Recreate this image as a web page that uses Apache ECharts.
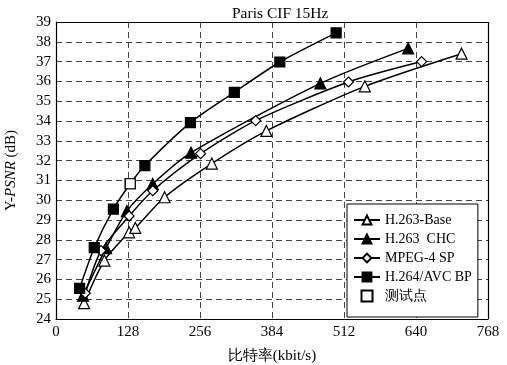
<!DOCTYPE html>
<html><head><meta charset="utf-8">
<script src="https://cdn.jsdelivr.net/npm/echarts@6/dist/echarts.min.js"></script>
<style>html,body{margin:0;padding:0;background:#fff}#c{width:507px;height:365px}</style>
</head><body><div id="c"></div>
<script>
var xTicks = [0, 128, 256, 384, 512, 640, 768];
var h263Base = [[50,24.8],[86,26.95],[130,28.38],[141,28.6],[193,30.15],[277,31.85],[374,33.5],[549,35.75],[721,37.4]];
var h263Chc = [[48,25.18],[89,27.58],[126,29.45],[172,30.82],[240,32.4],[470,35.9],[626,37.67]];
var mpeg4Sp = [[52,25.3],[80,27.45],[130,29.2],[172,30.48],[257,32.35],[355,34.02],[520,35.97],[650,37.0]];
var h264Bp = [[42,25.55],[68,27.6],[102,29.55],[132,30.83],[158,31.75],[239,33.92],[317,35.45],[398,36.98],[498,38.45]];
var testPoints = [[132,30.83]];

var serif = 'Liberation Serif';
var chart = echarts.init(document.getElementById('c'));
function lineSeries(name, data, symbol, size, fill) {
  return {
    name: name, type: 'line', data: data, smooth: 0.25,
    symbol: symbol, symbolSize: size, showAllSymbol: true,
    lineStyle: {color: '#000', width: 1.5},
    itemStyle: {color: fill, borderColor: '#000', borderWidth: 1.2, opacity: 1},
    emphasis: {disabled: true}
  };
}
chart.setOption({
  animation: false,
  title: {text: 'Paris CIF 15Hz', left: 227, top: 1,
    textStyle: {fontFamily: serif, fontSize: 15.5, fontWeight: 'normal', color: '#000'}},
  grid: {left: 56, right: 19, top: 22, bottom: 46, containLabel: false, outerBoundsMode: 'none'},
  legend: {
    orient: 'vertical', left: 347, top: 204, width: 131,
    padding: [9, 6, 14, 6], itemGap: 5, itemWidth: 26, itemHeight: 11,
    backgroundColor: '#fff', borderColor: '#000', borderWidth: 1,
    textStyle: {fontFamily: serif, fontSize: 14, color: '#000'},
    data: ['H.263-Base', 'H.263  CHC', 'MPEG-4 SP', 'H.264/AVC BP',
      {name: '测试点', icon: 'path://M0,0H10V10H0Z'}]
  },
  xAxis: {
    type: 'value', min: 0, max: 768, interval: 128,
    name: '比特率(kbit/s)', nameLocation: 'middle', nameGap: 30,
    nameTextStyle: {fontFamily: serif, fontSize: 15, color: '#000'},
    axisLine: {show: true, lineStyle: {color: '#000', width: 1.2}},
    axisTick: {show: false},
    axisLabel: {fontFamily: serif, fontSize: 15, color: '#000', margin: 6,
      formatter: function (v) { return xTicks.indexOf(v) >= 0 ? String(v) : ''; }},
    splitLine: {show: true, lineStyle: {color: '#444', type: [6, 4], width: 1}}
  },
  yAxis: {
    type: 'value', min: 24, max: 39, interval: 1,
    name: '{a|Y-}{b|PSNR}{a| (dB)}', nameLocation: 'middle', nameGap: 37,
    nameTextStyle: {rich: {
      a: {fontFamily: serif, fontSize: 15, color: '#000'},
      b: {fontFamily: serif, fontSize: 15, color: '#000', fontStyle: 'italic'}}},
    axisLine: {show: true, lineStyle: {color: '#000', width: 1.2}},
    axisTick: {show: false},
    axisLabel: {fontFamily: serif, fontSize: 15, color: '#000', margin: 5},
    splitLine: {show: true, lineStyle: {color: '#444', type: [6, 4], width: 1}}
  },
  series: [
    lineSeries('H.263-Base', h263Base, 'triangle', 11, '#fff'),
    lineSeries('H.263  CHC', h263Chc, 'triangle', 11, '#000'),
    lineSeries('MPEG-4 SP', mpeg4Sp, 'diamond', 10, '#fff'),
    lineSeries('H.264/AVC BP', h264Bp, 'rect', 10, '#000'),
    {name: '测试点', type: 'scatter', data: testPoints, symbol: 'rect', symbolSize: 10, z: 5,
     itemStyle: {color: '#fff', borderColor: '#000', borderWidth: 1.2, opacity: 1}, emphasis: {disabled: true}},
    {type: 'line', data: [], markLine: {silent: true, symbol: 'none', label: {show: false},
      lineStyle: {color: '#000', width: 1.2, type: 'solid'},
      data: [{xAxis: 768}, {yAxis: 39}]}}
  ]
});
</script></body></html>
